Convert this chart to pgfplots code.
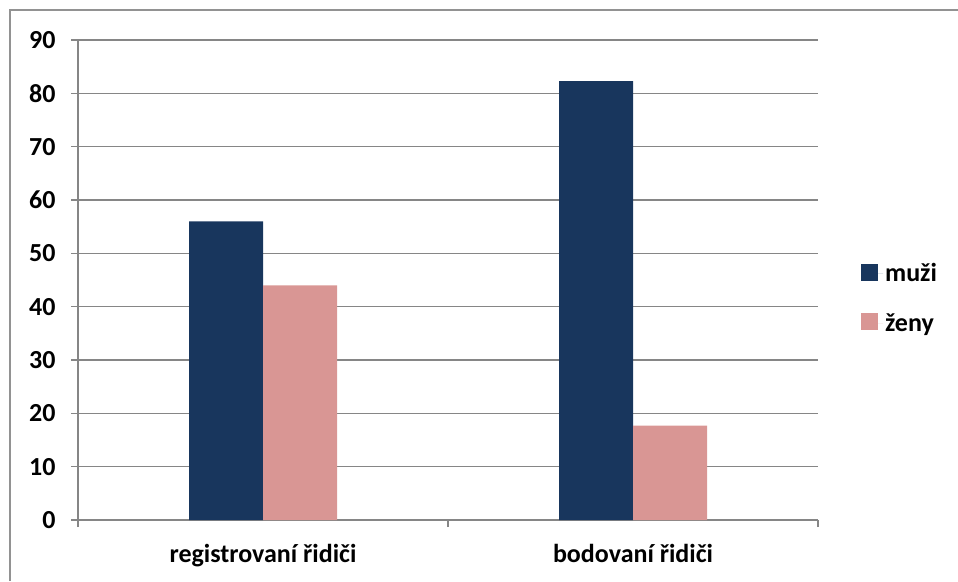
\documentclass[border=0pt]{standalone}
\usepackage{fontspec}
\setmainfont{Carlito}
\usepackage{pgfplots}
\pgfplotsset{compat=1.18}
\definecolor{navy}{RGB}{24,54,93}
\definecolor{rose}{RGB}{217,150,148}
\definecolor{gridgray}{RGB}{134,134,134}
\begin{document}
\begin{tikzpicture}[x=1pt,y=1pt]
\path[use as bounding box] (0,0) rectangle (958,581);
\draw[gridgray!90, line width=1.6pt] (10,0) -- (10,571) -- (958,571);
\begin{axis}[
  at={(78pt,61pt)}, anchor=south west,
  width=740pt, height=480pt, scale only axis,
  xmin=-0.5, xmax=1.5, ymin=0, ymax=90,
  ytick={0,10,...,90},
  ymajorgrids, grid style={gridgray, line width=1.6pt},
  axis x line*=bottom, axis y line*=left,
  axis line style={gridgray, line width=1.6pt, -},
  xtick={0,1}, xticklabels={registrovaní řidiči, bodovaní řidiči},
  major x tick style={draw=none},
  minor xtick={-0.5,0.5,1.5},
  minor tick style={gridgray, line width=1.6pt},
  major y tick style={gridgray, line width=1.6pt},
  tick align=outside,
  major tick length=7pt, minor tick length=7pt,
  ticklabel style={font=\fontsize{26}{31}\selectfont\bfseries},
  /pgf/number format/assume math mode=true,
  yticklabel style={xshift=-12pt},
  xticklabel style={yshift=-14pt},
  ybar=0pt, bar width=74pt,
  legend style={at={(rel axis cs:1.058,0.462)}, anchor=west, draw=none, fill=none,
    inner sep=0pt, font=\fontsize{26}{31}\selectfont\bfseries, row sep=26pt,
    legend cell align=left},
  legend image code/.code={\path[#1] (0pt,-7pt) rectangle (17pt,10pt); \path (0pt,0pt) -- (22pt,0pt);},
]
\addplot[fill=navy, draw=none] coordinates {(0,56) (1,82.3)};
\addplot[fill=rose, draw=none] coordinates {(0,44) (1,17.7)};
\legend{muži, ženy}
\end{axis}
\end{tikzpicture}
\end{document}
